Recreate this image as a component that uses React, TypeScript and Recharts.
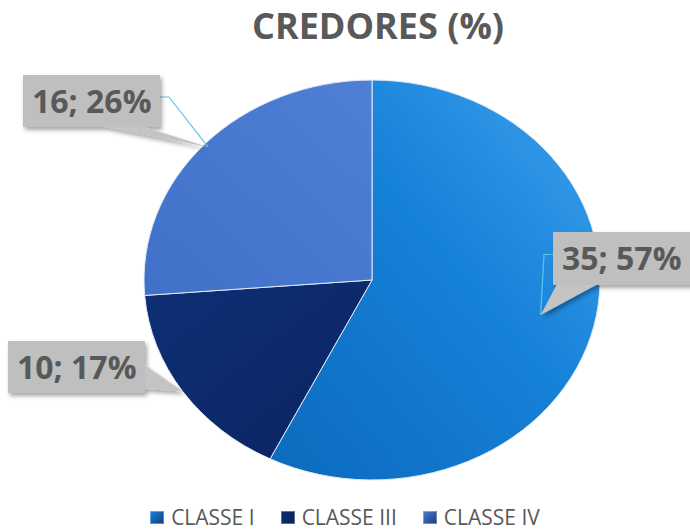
import React from 'react';
import { PieChart, Pie, Cell, Legend } from 'recharts';

// Pie "CREDORES (%)" - 3 classes, Excel-style callout labels

const categories = ['CLASSE I', 'CLASSE III', 'CLASSE IV'];
const values = [35, 10, 16];
const percentLabels = ['57%', '17%', '26%'];

const colors = ['#1A84DA', '#0C2B6E', '#4C7ED3'];
const gradIds = ['gradI', 'gradIII', 'gradIV'];

// label boxes, placed relative to the pie centre (Excel moved them by hand)
const labelBoxes = [
  { dx: 181, dy: -48, w: 150, h: 53, pointer: 'bottom', anchorR: 0.76, leader: true },
  { dx: -364, dy: 61, w: 137, h: 52, pointer: 'right', anchorR: 1.0, leader: false },
  { dx: -349, dy: -205, w: 137, h: 52, pointer: 'bottom', anchorR: 0.98, leader: true },
];

const CX = 372;
const CY = 280;
const RX = 228;
const RY_RATIO = 0.877;
const RAD = Math.PI / 180;

const FONT = '"Open Sans", sans-serif';

const data = categories.map((name, i) => ({ name, value: values[i] }));

function ellipsePoint(cx: number, cy: number, r: number, angle: number) {
  return {
    x: cx + r * Math.cos(-angle * RAD),
    y: cy + r * RY_RATIO * Math.sin(-angle * RAD),
  };
}

// elliptical sector to fake the tilted 3D pie
function EllipseSector(props: any) {
  const { cx, cy, outerRadius, startAngle, endAngle, fill } = props;
  const p1 = ellipsePoint(cx, cy, outerRadius, startAngle);
  const p2 = ellipsePoint(cx, cy, outerRadius, endAngle);
  const span = Math.abs(startAngle - endAngle);
  const large = span > 180 ? 1 : 0;
  const sweep = startAngle > endAngle ? 1 : 0;
  const d = `M${cx},${cy} L${p1.x},${p1.y} A${outerRadius},${outerRadius * RY_RATIO} 0 ${large} ${sweep} ${p2.x},${p2.y} Z`;
  return <path d={d} fill={fill} stroke="#dfe9f5" strokeWidth={1} />;
}

function renderLabel(props: any) {
  const { cx, cy, midAngle, outerRadius, index, value } = props;
  const box = labelBoxes[index];
  const a = ellipsePoint(cx, cy, outerRadius * box.anchorR, midAngle);
  const bx = cx + box.dx;
  const by = cy + box.dy;
  let poly: string;
  let lx: number;
  let ly: number;
  if (box.pointer === 'bottom') {
    const toRight = a.x > bx + box.w * 0.4;
    const b1 = toRight ? bx + box.w * 0.56 : bx + 4;
    const b2 = toRight ? bx + box.w * 0.86 : bx + 45;
    poly = `${b1},${by + box.h - 1} ${b2},${by + box.h - 1} ${a.x},${a.y}`;
    lx = a.x > bx ? bx + box.w : bx;
    ly = by + box.h / 2 - 4;
  } else {
    poly = `${bx + box.w - 1},${by + box.h * 0.45} ${bx + box.w - 1},${by + box.h * 0.92} ${a.x},${a.y}`;
    lx = bx + box.w;
    ly = by + box.h / 2;
  }
  const side = lx > cx ? 1 : -1;
  return (
    <g key={`lbl-${index}`}>
      {box.leader && (
        <polyline
          points={`${lx},${ly} ${lx - side * 9},${ly} ${a.x},${a.y}`}
          fill="none"
          stroke="#5ec3ea"
          strokeWidth={1.2}
        />
      )}
      <g filter="url(#boxShadow)">
        <polygon points={poly} fill="#c4c4c4" />
        <rect x={bx} y={by} width={box.w} height={box.h} fill="#bfbfbf" />
      </g>
      <text
        x={bx + 9}
        y={by + 38}
        fill="#595959"
        fontFamily={FONT}
        fontWeight={700}
        fontSize={32}
      >
        {`${value}; ${percentLabels[index]}`}
      </text>
    </g>
  );
}

function LegendContent() {
  return (
    <div
      style={{
        display: 'flex',
        justifyContent: 'center',
        gap: 26,
        fontFamily: FONT,
        fontSize: 21,
        color: '#595959',
        lineHeight: 'normal',
      }}
    >
      {categories.map((c, i) => (
        <div key={c} style={{ display: 'flex', alignItems: 'center', gap: 7 }}>
          <span
            style={{
              width: 14,
              height: 13,
              display: 'inline-block',
              background: `linear-gradient(135deg, ${colors[i]}, #0b1f55 140%)`,
              boxShadow: 'inset 0 0 0 1px rgba(255,255,255,0.35)',
            }}
          />
          <span>{c}</span>
        </div>
      ))}
    </div>
  );
}

export default function App() {
  return (
    <div
      style={{
        position: 'absolute',
        left: 0,
        top: 0,
        width: 690,
        height: 531,
        background: '#ffffff',
        overflow: 'hidden',
      }}
    >
      <div
        style={{
          position: 'absolute',
          left: 0,
          top: 2,
          width: 756,
          textAlign: 'center',
          fontFamily: FONT,
          fontWeight: 700,
          fontSize: 36,
          lineHeight: '48px',
          color: '#595959',
        }}
      >
        CREDORES (%)
      </div>
      <PieChart width={690} height={531} margin={{ top: 0, right: 0, bottom: 0, left: 0 }}>
        <defs>
          <linearGradient id="gradI" x1="1" y1="0" x2="0" y2="1">
            <stop offset="0%" stopColor="#3ea2ef" />
            <stop offset="45%" stopColor="#1681d8" />
            <stop offset="100%" stopColor="#0b6abd" />
          </linearGradient>
          <linearGradient id="gradIII" x1="0" y1="0" x2="1" y2="1">
            <stop offset="0%" stopColor="#0e2f76" />
            <stop offset="100%" stopColor="#0a2461" />
          </linearGradient>
          <linearGradient id="gradIV" x1="1" y1="0" x2="0" y2="1">
            <stop offset="0%" stopColor="#4f80d6" />
            <stop offset="100%" stopColor="#4070c8" />
          </linearGradient>
          <filter id="boxShadow" x="-10%" y="-10%" width="130%" height="140%">
            <feDropShadow dx="2" dy="3" stdDeviation="2" floodColor="#000" floodOpacity="0.35" />
          </filter>
        </defs>
        <Pie
          data={data}
          dataKey="value"
          nameKey="name"
          cx={CX}
          cy={CY}
          outerRadius={RX}
          startAngle={90}
          endAngle={-270}
          isAnimationActive={false}
          label={renderLabel}
          labelLine={false}
          shape={EllipseSector}
          activeShape={EllipseSector}
          inactiveShape={EllipseSector}
        >
          {data.map((d, i) => (
            <Cell key={d.name} fill={`url(#${gradIds[i]})`} />
          ))}
        </Pie>
        <Legend verticalAlign="bottom" wrapperStyle={{ bottom: 0 }} content={<LegendContent />} />
      </PieChart>
    </div>
  );
}
